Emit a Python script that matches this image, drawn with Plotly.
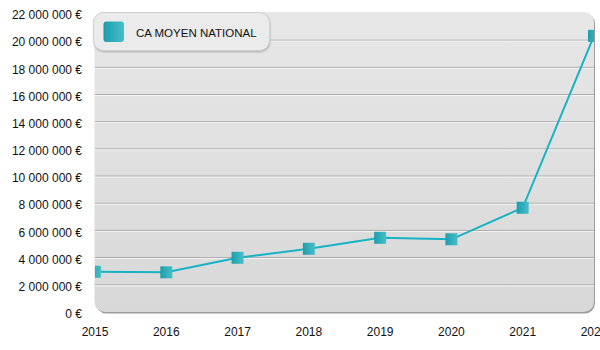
import base64
import plotly.graph_objects as go

# Chiffre d'affaires moyen national par année
years = [2015, 2016, 2017, 2018, 2019, 2020, 2021, 2022]
ca_moyen = [2.96e6, 2.92e6, 3.99e6, 4.65e6, 5.46e6, 5.35e6, 7.67e6, 20.32e6]

series_name = "CA MOYEN NATIONAL"
y_ticks = [0, 2e6, 4e6, 6e6, 8e6, 10e6, 12e6, 14e6, 16e6, 18e6, 20e6, 22e6]
y_tick_labels = [f"{int(v):,}".replace(",", " ") + " €" for v in y_ticks]
grid_values = y_ticks[1:-1]

W, H = 600, 350
L, R, T, B = 95, 6, 13, 38
PW, PH = W - L - R, H - T - B

FONT = "Liberation Sans, Arial, sans-serif"
LINE_COLOR = "#17b2c5"
MARK_DARK = "#1c9dab"
MARK_LIGHT = "#48bec8"


def svg_uri(svg):
    return "data:image/svg+xml;base64," + base64.b64encode(svg.encode()).decode()


def full_page_image(svg, layer):
    # place an SVG covering the whole figure, expressed in paper units
    return dict(
        source=svg_uri(svg), xref="paper", yref="paper",
        x=-L / PW, y=1 + T / PH, sizex=W / PW, sizey=H / PH,
        xanchor="left", yanchor="top", sizing="stretch", layer=layer,
    )


panel_svg = f"""<svg xmlns="http://www.w3.org/2000/svg" width="{W}" height="{H}" viewBox="0 0 {W} {H}">
<defs>
<linearGradient id="bg" x1="0" y1="0" x2="0" y2="1">
<stop offset="0" stop-color="#e7e7e7"/><stop offset="1" stop-color="#d8d8d8"/>
</linearGradient>
<filter id="sh" x="-5%" y="-5%" width="110%" height="110%"><feGaussianBlur stdDeviation="0.7"/></filter>
</defs>
<rect x="{L + 1}" y="{T + 0.5}" width="{PW}" height="{PH + 1}" rx="10" fill="#9c9c9c" filter="url(#sh)"/>
<rect x="{L - 0.5}" y="{T - 1}" width="{PW + 0.5}" height="{PH + 1}" rx="10" fill="url(#bg)"/>
</svg>"""

legend_svg = f"""<svg xmlns="http://www.w3.org/2000/svg" width="{W}" height="{H}" viewBox="0 0 {W} {H}">
<defs>
<linearGradient id="sw" x1="0" y1="0" x2="1" y2="0">
<stop offset="0" stop-color="{MARK_DARK}"/><stop offset="1" stop-color="{MARK_LIGHT}"/>
</linearGradient>
<filter id="sh" x="-10%" y="-20%" width="120%" height="140%"><feGaussianBlur stdDeviation="1.2"/></filter>
</defs>
<rect x="94" y="14" width="176" height="38" rx="10" fill="#a8a8a8" filter="url(#sh)"/>
<rect x="93.5" y="12.5" width="176" height="38" rx="10" fill="#ebebeb" stroke="#d0d0d0" stroke-width="1"/>
<rect x="103.5" y="21.5" width="20.5" height="20.5" rx="3" fill="url(#sw)"/>
</svg>"""

fig = go.Figure()

fig.add_trace(go.Scatter(
    x=years, y=ca_moyen, name=series_name, mode="lines+markers",
    line=dict(color=LINE_COLOR, width=2),
    marker=dict(symbol="square", size=12, color=MARK_DARK,
                gradient=dict(type="horizontal", color=MARK_LIGHT),
                line=dict(width=0)),
    showlegend=False, hoverinfo="x+y",
))

shapes = []
for v in grid_values:
    shapes.append(dict(type="line", xref="paper", yref="y", x0=0, x1=1, y0=v, y1=v,
                       line=dict(color="#a9a9a9", width=1), layer="below"))
    shapes.append(dict(type="line", xref="paper", yref="y", x0=0, x1=1,
                       ysizemode="pixel", yanchor=v, y0=-1, y1=-1,
                       line=dict(color="#f4f4f4", width=1), layer="below"))

fig.update_layout(
    width=W, height=H,
    margin=dict(l=L, r=R, t=T, b=B, pad=0, autoexpand=False),
    paper_bgcolor="white", plot_bgcolor="rgba(0,0,0,0)",
    font=dict(family=FONT, size=12, color="#111111"),
    images=[full_page_image(panel_svg, "below"), full_page_image(legend_svg, "above")],
    shapes=shapes,
    annotations=[dict(
        text=series_name, xref="paper", yref="paper",
        x=(134 - L) / PW, y=1 - (33 - T) / PH, xanchor="left", yanchor="middle",
        showarrow=False, font=dict(family=FONT, size=11.5, color="#111111"),
    )],
    xaxis=dict(range=[years[0], years[-1]], tickvals=years, ticktext=[str(y) for y in years],
               showgrid=False, zeroline=False, showline=False, ticks="", automargin=False,
               ticklabelstandoff=11, ticklabeloverflow="allow", fixedrange=True),
    yaxis=dict(range=[y_ticks[0], y_ticks[-1]], tickvals=y_ticks, ticktext=y_tick_labels,
               showgrid=False, zeroline=False, showline=False, ticks="", automargin=False,
               ticklabelstandoff=12, ticklabelshift=2, fixedrange=True),
)

fig.write_html("out.html", config={"displayModeBar": False})
